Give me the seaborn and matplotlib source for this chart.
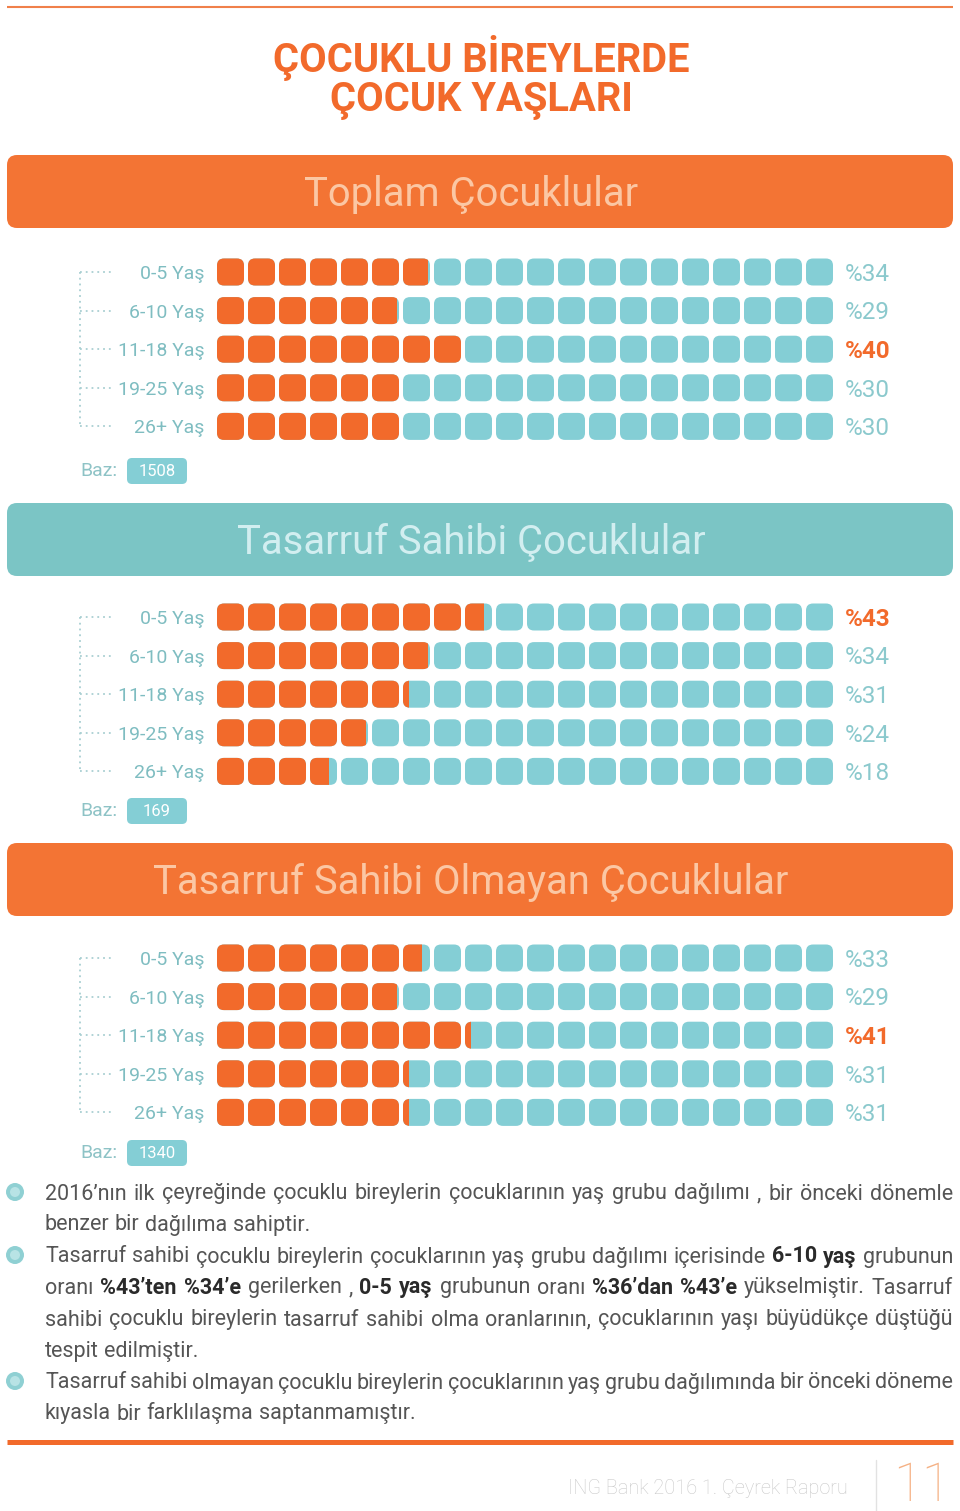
import numpy as np
import pandas as pd
import matplotlib
matplotlib.use("Agg")
import matplotlib.pyplot as plt
import matplotlib.transforms as mtransforms
from matplotlib.patches import FancyBboxPatch, PathPatch, Circle
from matplotlib.path import Path
import seaborn as sns

# ---- data ----
ages = ['0-5 Yaş', '6-10 Yaş', '11-18 Yaş', '19-25 Yaş', '26+ Yaş']
toplam = [34, 29, 40, 30, 30]
tasarruf = [43, 34, 31, 24, 18]
olmayan = [33, 29, 41, 31, 31]
panel_values = [toplam, tasarruf, olmayan]
panel_titles = ['Toplam Çocuklular', 'Tasarruf Sahibi Çocuklular',
                'Tasarruf Sahibi Olmayan Çocuklular']
bases = ['1508', '169', '1340']
title_lines = ['ÇOCUKLU BİREYLERDE', 'ÇOCUK YAŞLARI']
body_lines = [
    (True, True, "2016’nın ilk çeyreğinde çocuklu bireylerin çocuklarının yaş grubu dağılımı , bir önceki dönemle"),
    (False, False, "benzer bir dağılıma sahiptir."),
    (True, True, "Tasarruf sahibi çocuklu bireylerin çocuklarının yaş grubu dağılımı içerisinde **6-10 yaş** grubunun"),
    (False, True, "oranı **%43’ten %34’e** gerilerken , **0-5 yaş** grubunun oranı **%36’dan %43’e** yükselmiştir. Tasarruf"),
    (False, True, "sahibi çocuklu bireylerin tasarruf sahibi olma oranlarının, çocuklarının yaşı büyüdükçe düştüğü"),
    (False, False, "tespit edilmiştir."),
    (True, True, "Tasarruf sahibi olmayan çocuklu bireylerin çocuklarının yaş grubu dağılımında bir önceki döneme"),
    (False, False, "kıyasla bir farklılaşma saptanmamıştır."),
]
footer_text = 'ING Bank 2016 1. Çeyrek Raporu'
page_no = '11'

# ---- colours ----
ORANGE = '#F26A2B'
HEAD_OR = '#F37434'
TEAL = '#84CED5'
HEAD_TEAL = '#7BC5C5'
LABEL = '#7FBDC1'
PCT = '#8BC9CD'

sns.set_theme(style='white')
plt.rcParams['font.family'] = ['Roboto', 'DejaVu Sans']

W, H = 960, 1511
fig = plt.figure(figsize=(W / 100, H / 100), dpi=100)
bg = fig.add_axes([0, 0, 1, 1])
bg.set_xlim(0, W)
bg.set_ylim(H, 0)
bg.axis('off')

# top / bottom rules
bg.plot([7, 953], [7, 7], color='#F0804A', lw=1.5, solid_capstyle='butt')
bg.plot([7, 953], [1442, 1442], color=ORANGE, lw=3.6, solid_capstyle='butt')

# main title
for i, line in enumerate(title_lines):
    bg.text(481, 58 + 43 * i, line, ha='center', va='center', fontsize=28.7,
            fontweight='bold', color=ORANGE)

header_y = [155, 503, 843]
row0_y = [272, 617, 958]
baz_y = [471, 811, 1153]
head_colors = [HEAD_OR, HEAD_TEAL, HEAD_OR]
head_text = ['#FBC7A4', '#D2EEF0', '#FBC7A4']
row_h = 38.6

for k in range(3):
    # header band
    bg.add_patch(FancyBboxPatch((7, header_y[k]), 946, 73,
                                boxstyle='round,pad=0,rounding_size=10',
                                fc=head_colors[k], ec='none'))
    bg.text(471, header_y[k] + 39, panel_titles[k], ha='center', va='center',
            fontsize=28.8, color=head_text[k])

    # dotted bracket
    y0 = row0_y[k]
    bg.plot([80, 80], [y0, y0 + 4 * row_h], color='#A9CFD2', lw=1.3,
            ls=(0, (1, 2.2)))
    for r in range(5):
        bg.plot([80, 112], [y0 + r * row_h] * 2, color='#A9CFD2', lw=1.3,
                ls=(0, (1, 2.2)))

    # base badge
    bg.text(80, baz_y[k], 'Baz:', ha='left', va='center', fontsize=14,
            color='#8EC3C6')
    bg.add_patch(FancyBboxPatch((127, baz_y[k] - 13), 60, 26,
                                boxstyle='round,pad=0,rounding_size=5',
                                fc=TEAL, ec='none'))
    bg.text(157, baz_y[k], bases[k], ha='center', va='center', fontsize=12,
            color='white')

    # waffle rows: axes in percent units
    top_px = y0 - row_h / 2
    h_px = 5 * row_h
    ax = fig.add_axes([217 / W, 1 - (top_px + h_px) / H, 620 / W, h_px / H])
    ax.patch.set_alpha(0)
    df = pd.DataFrame({'age': ages, 'pct': panel_values[k]})
    sns.barplot(data=df, x='pct', y='age', color=ORANGE, saturation=1,
                width=0.8, errorbar=None, ax=ax)
    bars = list(ax.patches)
    ax.set_xlim(0, 100)
    ax.set_ylim(4.5, -0.5)

    xpx = 620 / 100
    ypx = row_h
    sq_w = 27 / xpx
    sq_h = 27 / ypx
    rs = 7 / xpx
    for r, bar in enumerate(bars):
        squares = []
        for i in range(20):
            sq = FancyBboxPatch((5 * i, r - sq_h / 2), sq_w, sq_h,
                                boxstyle=f'round,pad=0,rounding_size={rs}',
                                mutation_aspect=xpx / ypx,
                                fc=TEAL, ec='none', zorder=1)
            ax.add_patch(sq)
            squares.append(sq)
        clip = PathPatch(Path.make_compound_path(*[s.get_path() for s in squares]),
                         transform=ax.transData)
        bar.set_zorder(2)
        bar.set_edgecolor('none')
        bar.set_clip_path(clip)

    vals = panel_values[k]
    trans = mtransforms.blended_transform_factory(ax.transAxes, ax.transData)
    for r, v in enumerate(vals):
        top = v == max(vals)
        ax.text(1.012, r + 0.06, f'%{v}', transform=trans, ha='left',
                va='center', fontsize=17.5, color=ORANGE if top else PCT,
                fontweight='bold' if top else 'normal')

    ax.set_xlabel('')
    ax.set_ylabel('')
    ax.set_xticks([])
    sns.despine(ax=ax, left=True, bottom=True)
    ax.tick_params(axis='y', length=0, pad=9, labelsize=14,
                   labelcolor=LABEL)

# ---- body text with inline bold, justified ----
renderer = fig.canvas.get_renderer()
fs = 15.5
x_left, x_right = 45, 953
line_y = [1192, 1223, 1255, 1286, 1318, 1349, 1381, 1412]
sp = bg.text(0, 0, 'a a', fontsize=fs)
sp2 = bg.text(0, 0, 'aa', fontsize=fs)
space_w = (sp.get_window_extent(renderer).width
           - sp2.get_window_extent(renderer).width)
sp.remove()
sp2.remove()

for (bullet, justify, line), y in zip(body_lines, line_y):
    words = []
    for j, seg in enumerate(line.split('**')):
        for w in seg.split():
            words.append((w, j % 2 == 1))
    texts = []
    for w, b in words:
        t = bg.text(0, y + 7.5, w, fontsize=fs, va='baseline', ha='left',
                    color='#2A2A2A' if b else '#555555',
                    fontweight='bold' if b else 'normal')
        texts.append(t)
    widths = [t.get_window_extent(renderer).width for t in texts]
    if justify and len(texts) > 1:
        gap = (x_right - x_left - sum(widths)) / (len(texts) - 1)
    else:
        gap = space_w
    x = x_left
    for t, wd in zip(texts, widths):
        t.set_x(x)
        x += wd + gap
    if bullet:
        bg.add_patch(Circle((15, y), 9, fc='#8FD0D3', ec='none'))
        bg.add_patch(Circle((15, y), 5, fc='#B8E3E5', ec='none'))

# footer
bg.text(848, 1488, footer_text, ha='right', va='center', fontsize=14.3,
        color='#C9C9C9', fontweight='light')
bg.plot([876, 876], [1460, 1511], color='#E2E2E2', lw=1)
bg.text(922, 1486, page_no, ha='center', va='center', fontsize=38,
        color='#F5B184', fontweight=100)

fig.savefig('out.png', dpi=100)
